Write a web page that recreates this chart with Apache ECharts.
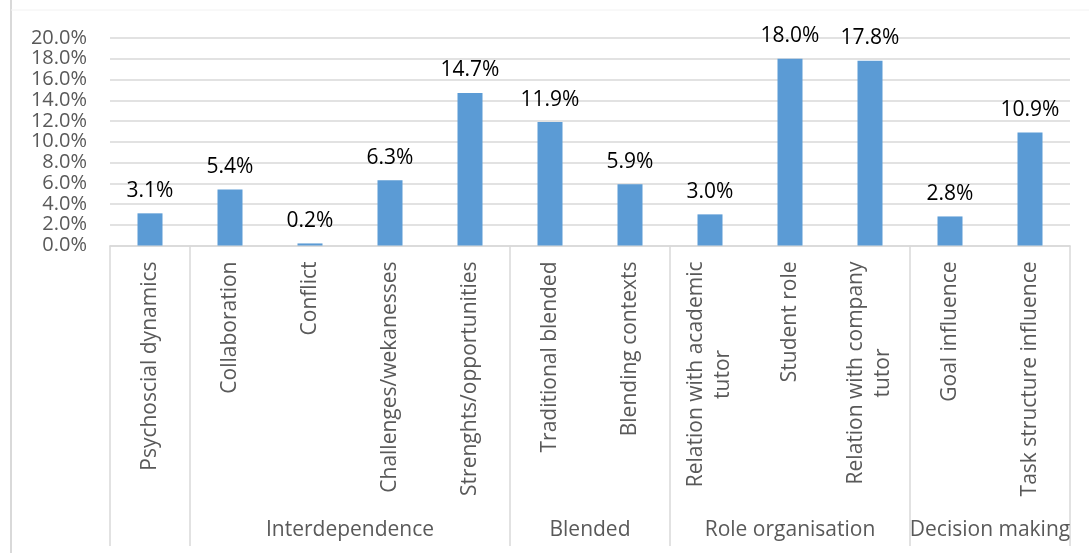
<!DOCTYPE html>
<html>
<head>
<meta charset="utf-8">
<script src="https://cdn.jsdelivr.net/npm/echarts@6/dist/echarts.min.js"></script>
<style>
  html, body { margin: 0; padding: 0; background: #fff; }
  #chart { width: 1089px; height: 553px; }
</style>
</head>
<body>
<div id="chart"></div>
<script>
// Categories (line breaks where the label wraps)
const categories = [
  'Psychoscial dynamics',
  'Collaboration',
  'Conflict',
  'Challenges/wekanesses',
  'Strenghts/opportunities',
  'Traditional blended',
  'Blending contexts',
  'Relation with academic\ntutor',
  'Student role',
  'Relation with company\ntutor',
  'Goal influence',
  'Task structure influence'
];

// Share of coded references, in percent
const values = [3.1, 5.4, 0.2, 6.3, 14.7, 11.9, 5.9, 3.0, 18.0, 17.8, 2.8, 10.9];

// Outer grouping of the categories: name, first index, last index
const groupNames = ['', 'Interdependence', 'Blended', 'Role organisation', 'Decision making'];
const groupStart = [0, 1, 5, 7, 10];
const groupEnd = [0, 4, 6, 9, 11];

// Value-axis range
const yMin = 0, yMax = 20, yStep = 2;

const FONT = '"Open Sans", "Noto Sans", sans-serif';
const FS = 21;
const GRAY_TEXT = '#595959';
const LINE = '#D9D9D9';

const groupData = groupNames.map((n, i) => ({ name: n, value: [groupStart[i], 0, groupEnd[i]] }));

const chart = echarts.init(document.getElementById('chart'), null, { renderer: 'canvas' });

chart.setOption({
  animation: false,
  backgroundColor: '#fff',
  textStyle: { fontFamily: FONT },
  graphic: [
    { type: 'line', silent: true, shape: { x1: 11, y1: 0, x2: 11, y2: 553 }, style: { stroke: LINE, lineWidth: 2 } },
    { type: 'line', silent: true, shape: { x1: 11, y1: 10, x2: 1089, y2: 10 }, style: { stroke: '#F2F2F2', lineWidth: 1 } }
  ],
  grid: { left: 110, right: 19, top: 38, bottom: 307.5, containLabel: false },
  xAxis: {
    type: 'category',
    data: categories,
    axisLine: { show: true, lineStyle: { color: LINE, width: 1.5 } },
    axisTick: { show: false },
    axisLabel: {
      interval: 0,
      rotate: 90,
      margin: 16,
      fontFamily: FONT,
      fontSize: FS,
      color: GRAY_TEXT,
      lineHeight: 27,
      formatter: function (v) {
        return v.split('\n').map(s => '{c|' + s + '}').join('\n');
      },
      rich: {
        c: { align: 'center', fontFamily: FONT, fontSize: FS, color: GRAY_TEXT, lineHeight: 27 }
      }
    }
  },
  yAxis: {
    type: 'value',
    min: yMin,
    max: yMax,
    interval: yStep,
    axisLine: { show: false },
    axisTick: { show: false },
    splitLine: { lineStyle: { color: LINE, width: 1.5 } },
    axisLabel: {
      margin: 23,
      fontFamily: FONT,
      fontSize: 20,
      color: GRAY_TEXT,
      formatter: v => v.toFixed(1) + '%'
    }
  },
  series: [
    {
      type: 'bar',
      data: values,
      barWidth: 25,
      itemStyle: { color: '#5B9BD5' },
      label: {
        show: true,
        position: 'top',
        distance: 12,
        fontFamily: FONT,
        fontSize: FS,
        color: '#000',
        formatter: p => p.value.toFixed(1) + '%'
      },
      z: 3
    },
    {
      // Outer category level: separators and group names under the axis
      type: 'custom',
      silent: true,
      clip: false,
      data: groupData,
      encode: { x: 0, y: 1 },
      renderItem: function (params, api) {
        const s = api.value(0), e = api.value(2);
        const band = api.size([1, 0])[0];
        const base = api.coord([s, 0]);
        const x0 = base[0] - band / 2;
        const x1 = api.coord([e, 0])[0] + band / 2;
        const y0 = base[1];
        const children = [
          { type: 'line', shape: { x1: x0, y1: y0, x2: x0, y2: y0 + 300.5 }, style: { stroke: LINE, lineWidth: 1.5 } }
        ];
        if (params.dataIndex === groupNames.length - 1) {
          children.push({ type: 'line', shape: { x1: x1, y1: y0, x2: x1, y2: y0 + 300.5 }, style: { stroke: LINE, lineWidth: 1.5 } });
        }
        const name = groupNames[params.dataIndex];
        if (name) {
          children.push({
            type: 'text',
            style: {
              x: (x0 + x1) / 2, y: y0 + 285,
              text: name,
              align: 'center', verticalAlign: 'middle',
              fontFamily: FONT, fontSize: FS, fill: GRAY_TEXT
            }
          });
        }
        return { type: 'group', children: children };
      },
      z: 2
    }
  ]
});
</script>
</body>
</html>
